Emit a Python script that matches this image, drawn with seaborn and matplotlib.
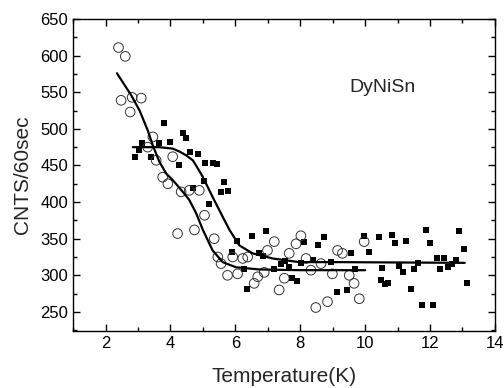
import matplotlib
matplotlib.use("Agg")
import matplotlib.pyplot as plt
import seaborn as sns
import pandas as pd
from matplotlib.ticker import MultipleLocator

# ---- data ----
circ_T = [2.40, 2.61, 2.48, 2.82, 3.10, 2.76, 3.46, 3.30, 3.56, 4.07, 3.76, 3.92,
          4.33, 4.58, 4.89, 5.05, 4.22, 4.74, 5.35, 5.46, 5.56, 5.76, 5.92, 6.07,
          6.23, 6.38, 6.58, 6.69, 6.89, 6.99, 7.20, 7.35, 7.51, 7.66, 7.87, 8.02,
          8.18, 8.33, 8.48, 8.64, 8.84, 8.99, 9.15, 9.30, 9.51, 9.66, 9.82, 9.97]
circ_C = [611, 599, 539, 543, 542, 523, 489, 475, 457, 462, 434, 425,
          414, 416, 416, 382, 357, 362, 350, 325, 316, 300, 325, 302,
          323, 325, 289, 298, 304, 334, 346, 280, 296, 330, 343, 354,
          323, 307, 256, 316, 264, 302, 334, 330, 300, 289, 268, 346]

sq_T = [2.92, 3.03, 3.12, 3.40, 3.66, 3.79, 4.00, 4.25, 4.38, 4.48, 4.61, 4.70,
        4.85, 5.02, 5.08, 5.18, 5.30, 5.44, 5.56, 5.66, 5.78, 5.90, 6.04, 6.26,
        6.35, 6.50, 6.72, 6.84, 6.96, 7.20, 7.42, 7.52, 7.66, 7.76, 7.90, 8.02,
        8.12, 8.40, 8.56, 8.72, 8.94, 9.14, 9.43, 9.55, 9.68, 9.97, 10.12, 10.43,
        10.48, 10.51, 10.60, 10.70, 10.82, 10.93, 11.05, 11.16, 11.27, 11.40, 11.52,
        11.64, 11.76, 11.88, 12.00, 12.10, 12.20, 12.31, 12.43, 12.56, 12.68, 12.81,
        12.89, 13.06, 13.13]
sq_C = [462, 471, 480, 462, 480, 508, 482, 450, 495, 487, 469, 419,
        465, 429, 454, 397, 454, 452, 414, 428, 415, 332, 347, 309,
        281, 353, 331, 326, 361, 309, 316, 319, 311, 297, 292, 317,
        345, 321, 341, 352, 318, 277, 280, 331, 308, 353, 332, 352,
        294, 310, 288, 289, 355, 344, 313, 304, 347, 281, 309,
        317, 259, 362, 344, 260, 324, 309, 324, 312, 315, 321,
        361, 336, 290]

fitc_T = [2.35, 2.79, 3.05, 3.30, 3.46, 3.66, 3.87, 4.07, 4.17, 4.38, 4.58, 4.79,
          5.00, 5.30, 5.61, 6.02, 6.74, 8.00, 10.0]
fitc_C = [576, 546, 525, 498, 477, 455, 439, 430, 425, 414, 403, 385,
          362, 334, 318, 311, 308, 307, 307]

fits_T = [2.84, 3.30, 3.66, 4.07, 4.28, 4.48, 4.69, 4.79, 4.99, 5.30, 5.61, 5.82,
          6.12, 6.53, 7.15, 7.97, 9.20, 13.07]
fits_C = [475, 475, 475, 473, 469, 464, 457, 450, 435, 407, 380, 362,
          341, 330, 323, 318, 318, 317]

x_ticks = [2, 4, 6, 8, 10, 12, 14]
y_ticks = [250, 300, 350, 400, 450, 500, 550, 600, 650]

# ---- plot ----
sns.set_style("ticks")
plt.rcParams['font.family'] = ['Liberation Sans', 'DejaVu Sans']

fig = plt.figure(figsize=(5.04, 3.88), dpi=100)
ax = fig.add_axes([0.145, 0.147, 0.837, 0.804])

dc = pd.DataFrame({"T": circ_T, "C": circ_C})
ds = pd.DataFrame({"T": sq_T, "C": sq_C})
fc = pd.DataFrame({"T": fitc_T, "C": fitc_C})
fs = pd.DataFrame({"T": fits_T, "C": fits_C})

sns.scatterplot(data=ds, x="T", y="C", ax=ax, marker="s", s=22, color="black",
                edgecolor="black", linewidth=0, zorder=3)
sns.scatterplot(data=dc, x="T", y="C", ax=ax, marker="o", s=48, facecolor="none",
                edgecolor="#333333", linewidth=0.7, zorder=3)
sns.lineplot(data=fc, x="T", y="C", ax=ax, sort=False, estimator=None,
             color="black", linewidth=1.6, zorder=4)
sns.lineplot(data=fs, x="T", y="C", ax=ax, sort=False, estimator=None,
             color="black", linewidth=1.6, zorder=4)

ax.set_xlim(1, 14)
ax.set_ylim(224, 650)
ax.set_xticks(x_ticks)
ax.set_yticks(y_ticks)
ax.xaxis.set_minor_locator(MultipleLocator(1))
ax.yaxis.set_minor_locator(MultipleLocator(25))
ax.tick_params(which="both", direction="in", top=True, right=True,
               labelsize=12, colors="black")
ax.tick_params(which="major", length=5, width=1)
ax.tick_params(which="minor", length=3, width=1)
for sp in ax.spines.values():
    sp.set_visible(True)
    sp.set_linewidth(1.0)
    sp.set_color("black")

ax.set_xlabel("Temperature(K)", fontsize=15, labelpad=12)
ax.set_ylabel("CNTS/60sec", fontsize=15, labelpad=6)
ax.text(11.57, 557, "DyNiSn", fontsize=14, ha="right", va="center")

fig.savefig("out.png", dpi=100)
